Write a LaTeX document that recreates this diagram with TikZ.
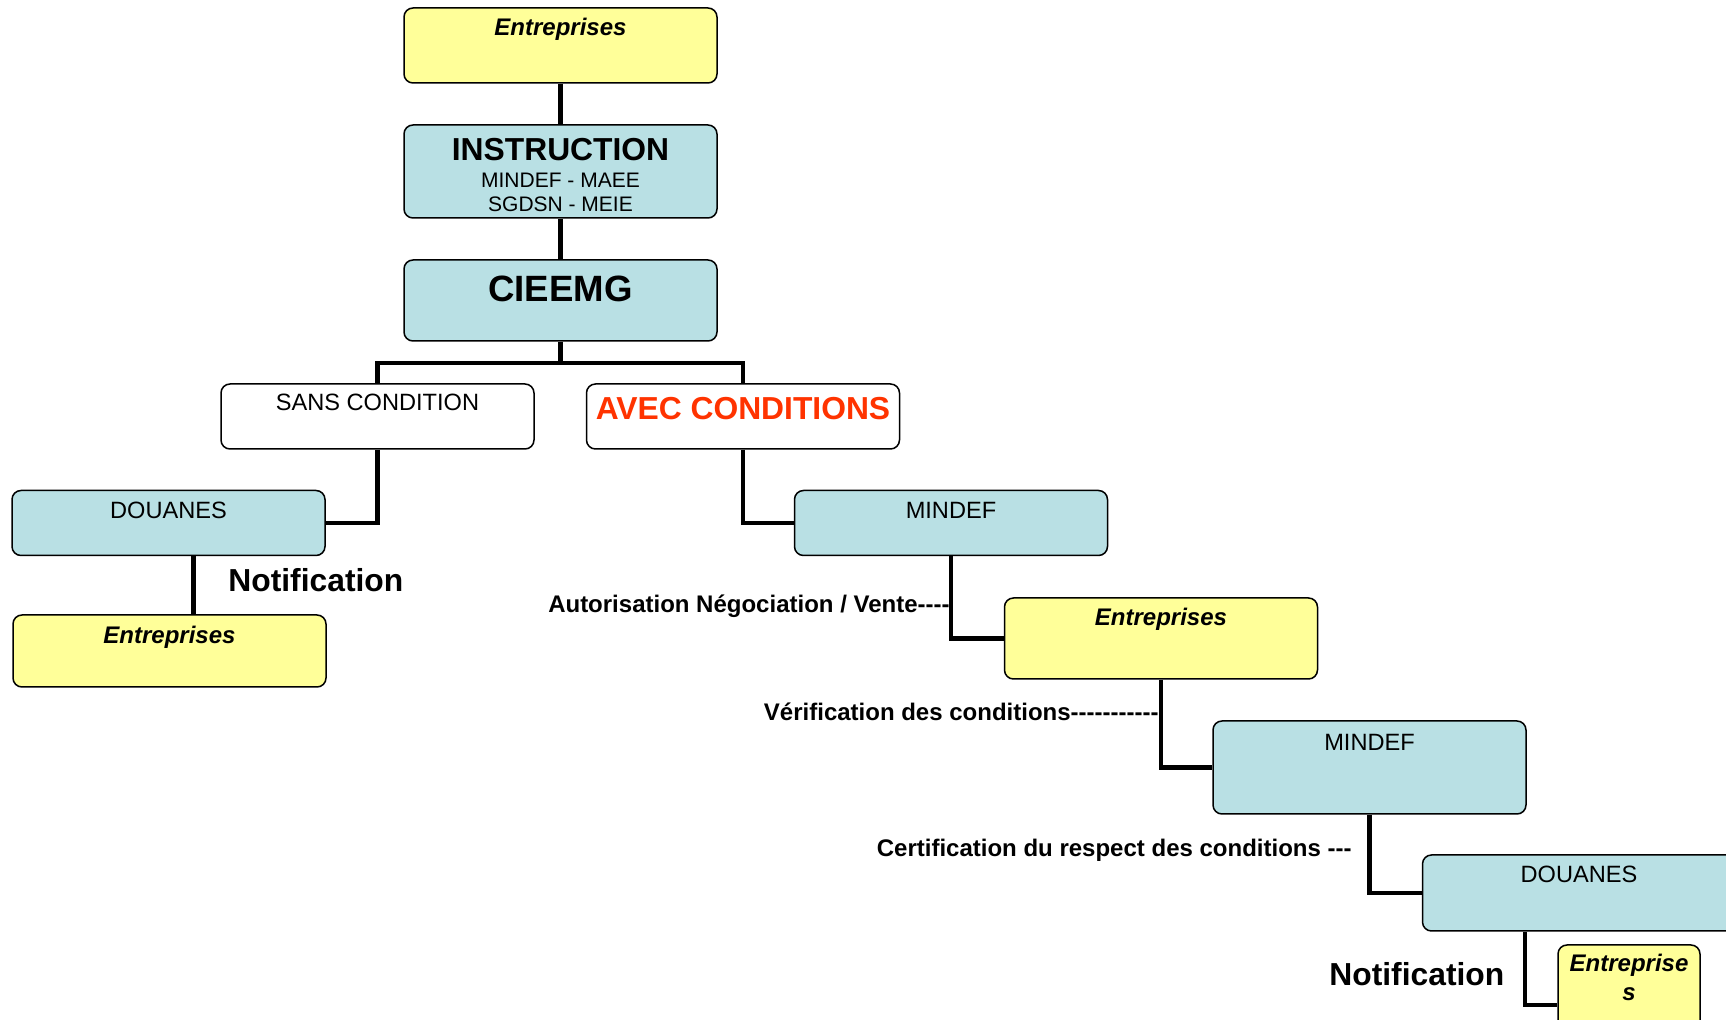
\documentclass[tikz,border=0pt]{standalone}
\usepackage{fontspec}
\setmainfont{Liberation Sans}[Ligatures=TeXOff]
\usepackage{xcolor}
\usetikzlibrary{positioning}

\definecolor{boxblue}{RGB}{185,224,228}
\definecolor{boxyellow}{RGB}{255,255,153}
\definecolor{avecred}{RGB}{255,51,0}

\newcommand{\fs}[1]{\fontsize{#1}{1.2\dimexpr#1pt\relax}\selectfont}

\begin{document}
\begin{tikzpicture}[x=0.5pt, y=-0.5pt,
  box/.style={draw, rounded corners=4.5pt, line width=0.75pt, inner sep=0pt,
    minimum width=156.5pt, font=\fs{11.8}},
  bluebox/.style={box, fill=boxblue},
  yellowbox/.style={box, fill=boxyellow, font=\fs{12}\bfseries\itshape},
  link/.style={line width=2.2pt},
  lbl/.style={inner sep=0pt, font=\fs{12}\bfseries},
  notif/.style={inner sep=0pt, font=\fs{15.9}\bfseries}
]
  \useasboundingbox (0,0) rectangle (1726,1020);

  % Top column
  \node[yellowbox, text height=13.75pt, text depth=23.75pt] (ent0) at (560.5,45.5) {Entreprises};
  \node[bluebox, text height=18pt, text depth=28.5pt] (instr) at (560.5,171.5)
    {\fs{10}\begin{tabular}[t]{@{}c@{}}{\fs{15.9}\bfseries INSTRUCTION}\\[1.3pt]
      {\fs{10.5}MINDEF - MAEE}\\{\fs{10.5}SGDSN - MEIE}\end{tabular}};
  \node[bluebox, text height=21pt, text depth=19.5pt, font=\fs{18.3}\bfseries] (cieemg) at (560.5,300.5) {CIEEMG};

  % Two branches
  \node[box, text height=13.5pt, text depth=19pt] (sans) at (377.5,416.5) {SANS CONDITION};
  \node[box, text height=18pt, text depth=14.5pt, font=\fs{15.9}\bfseries, text=avecred] (avec) at (743,416.5) {AVEC CONDITIONS};

  % Left branch
  \node[bluebox, text height=14pt, text depth=18.5pt] (douL) at (168.5,523) {DOUANES};
  \node[yellowbox, text height=14.25pt, text depth=21.75pt] (entL) at (169.5,651) {Entreprises};

  % Right branch (staircase)
  \node[bluebox, text height=14pt, text depth=18.5pt] (mindef1) at (951,523) {MINDEF};
  \node[yellowbox, text height=13.75pt, text depth=26.75pt] (entM) at (1161,638.5) {Entreprises};
  \node[bluebox, text height=14.75pt, text depth=31.75pt] (mindef2) at (1369.5,767.5) {MINDEF};
  \node[bluebox, text height=14pt, text depth=24pt] (douR) at (1579,893) {DOUANES};
  \node[yellowbox, minimum width=71pt, text height=13.5pt, text depth=46.5pt] (entS) at (1629,1005)
    {\begin{tabular}[t]{@{}c@{}}Entreprise\\s\end{tabular}};

  % Connectors
  \coordinate (split) at (560.5,363);
  \draw[link] (ent0.south) -- (instr.north);
  \draw[link] (instr.south) -- (cieemg.north);
  \draw[link] (cieemg.south) -- (split);
  \draw[link] (sans.north) |- (split) -| (avec.north);
  \draw[link] (sans.south) |- (douL.east);
  \draw[link] ([xshift=12.5pt]douL.south) -- ([xshift=12.5pt]douL.south |- entL.north);
  \draw[link] (avec.south) |- (mindef1.west);
  \draw[link] (mindef1.south) |- (entM.west);
  \draw[link] (entM.south) |- (mindef2.west);
  \draw[link] (mindef2.south) |- (douR.west);
  \draw[link] ([xshift=-27pt]douR.south) |- (entS.west);

  % Labels
  \node[notif, anchor=base west] (notifL) at (228,592) {Notification};
  \node[lbl, anchor=base east] (autor) at (950,613) {Autorisation Négociation / Vente----};
  \node[lbl, anchor=base east] (verif) at (1159,721) {Vérification des conditions-----------};
  \node[lbl, anchor=base east] (certif) at (1352,857) {Certification du respect des conditions ---};
  \node[notif, anchor=base west] (notifR) at (1329,986) {Notification};
\end{tikzpicture}
\end{document}
